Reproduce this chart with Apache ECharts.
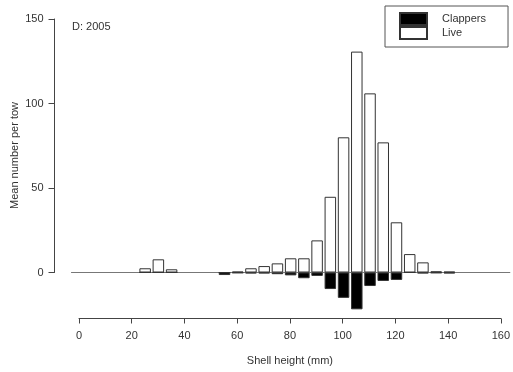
<!DOCTYPE html>
<html>
<head>
<meta charset="utf-8">
<script src="https://cdn.jsdelivr.net/npm/echarts@6/dist/echarts.min.js"></script>
<style>
  html, body { margin: 0; padding: 0; background: #fff; }
  #chart { width: 513px; height: 372px; }
</style>
</head>
<body>
<div id="chart"></div>
<script>
// Shell height bins (mm), bin midpoints
const shellHeights = [25, 30, 35, 55, 60, 65, 70, 75, 80, 85, 90, 95, 100, 105, 110, 115, 120, 125, 130, 135, 140];
// Mean number per tow: live scallops (plotted upward)
const liveValues = [2.5, 7.8, 1.9, 0, 0.5, 2.5, 3.8, 5.4, 8.4, 8.4, 19, 44.8, 80, 130.7, 106, 77, 29.7, 10.9, 6, 0.7, 0.5];
// Mean number per tow: clappers (plotted downward)
const clapperValues = [0, 0, 0, -1.5, -0.3, -0.5, -0.5, -1, -1.7, -3.4, -2, -9.8, -15, -21.8, -8, -5, -4.4, 0, -0.5, -0.3, -0.5];
const xTicks = [0, 20, 40, 60, 80, 100, 120, 140, 160];
const yTicks = [0, 50, 100, 150];
const panelLabel = 'D: 2005';
// horizontal baseline runs a little past both ends of the shell-height axis
const baselineExtent = [-3, 163];

const font = 'Liberation Sans, Arial, sans-serif';
const textColor = '#333';

// pixel layout of the axis frame
const plotLeft = 79, plotRight = 513 - 502.3, plotTop = 19, plotBottom = 99.5;
const pxPerMm = (513 - plotLeft - plotRight) / (xTicks[xTicks.length - 1] - xTicks[0]);

const chart = echarts.init(document.getElementById('chart'), null, { renderer: 'canvas' });

chart.setOption({
  animation: false,
  backgroundColor: '#fff',
  textStyle: { fontFamily: font },
  title: {
    text: panelLabel,
    left: 72,
    top: 21,
    padding: 0,
    textStyle: { fontFamily: font, fontSize: 11, fontWeight: 'normal', color: textColor }
  },
  legend: {
    orient: 'vertical',
    left: 385,
    top: 6,
    padding: [6, 22, 7, 14],
    itemWidth: 27,
    itemHeight: 12,
    itemGap: 0,
    borderColor: '#555',
    borderWidth: 1,
    data: [
      { name: 'Clappers', icon: 'rect' },
      { name: 'Live', icon: 'rect' }
    ],
    textStyle: { fontFamily: font, fontSize: 11, color: textColor, padding: [0, 0, 0, 10] }
  },
  grid: [
    // data area, widened so the baseline can extend beyond 0 and 160 mm
    {
      left: plotLeft + baselineExtent[0] * pxPerMm,
      right: plotRight - (baselineExtent[1] - xTicks[xTicks.length - 1]) * pxPerMm,
      top: plotTop,
      bottom: plotBottom
    },
    // axis frame
    { left: plotLeft, right: plotRight, top: plotTop, bottom: plotBottom }
  ],
  xAxis: [
    {
      gridIndex: 0,
      type: 'value',
      min: baselineExtent[0],
      max: baselineExtent[1],
      show: false
    },
    {
      gridIndex: 1,
      type: 'value',
      min: xTicks[0],
      max: xTicks[xTicks.length - 1],
      interval: 20,
      position: 'bottom',
      offset: 46,
      name: 'Shell height (mm)',
      nameLocation: 'middle',
      nameGap: 37,
      nameTextStyle: { fontFamily: font, fontSize: 11, color: textColor },
      axisLine: { show: true, onZero: false, lineStyle: { color: '#444', width: 1 } },
      axisTick: { show: true, inside: false, length: 5, lineStyle: { color: '#444' } },
      axisLabel: { fontFamily: font, fontSize: 11, color: textColor, margin: 12 },
      splitLine: { show: false }
    }
  ],
  yAxis: [
    {
      gridIndex: 0,
      type: 'value',
      min: yTicks[0],
      max: yTicks[yTicks.length - 1],
      show: false
    },
    {
      gridIndex: 1,
      type: 'value',
      min: yTicks[0],
      max: yTicks[yTicks.length - 1],
      interval: 50,
      position: 'left',
      offset: 24.5,
      axisLine: { show: true, onZero: false, lineStyle: { color: '#444', width: 1 } },
      axisTick: { show: true, inside: false, length: 6, lineStyle: { color: '#444' } },
      axisLabel: { fontFamily: font, fontSize: 11, color: textColor, margin: 11 },
      splitLine: { show: false }
    }
  ],
  graphic: [{
    type: 'text',
    left: 9,
    top: 102,
    rotation: Math.PI / 2,
    style: {
      text: 'Mean number per tow',
      font: '11px ' + font,
      fill: textColor
    }
  }],
  series: [
    {
      name: 'Baseline',
      type: 'line',
      xAxisIndex: 0,
      yAxisIndex: 0,
      data: [[baselineExtent[0], 0], [baselineExtent[1], 0]],
      symbol: 'none',
      silent: true,
      lineStyle: { color: '#777', width: 1 },
      z: 1
    },
    {
      name: 'Clappers',
      type: 'bar',
      xAxisIndex: 0,
      yAxisIndex: 0,
      data: shellHeights.map((h, i) => [h, clapperValues[i]]),
      barWidth: 11.5,
      barGap: '-100%',
      clip: false,
      itemStyle: { color: '#000', borderColor: '#333', borderWidth: 1 },
      z: 3
    },
    {
      name: 'Live',
      type: 'bar',
      xAxisIndex: 0,
      yAxisIndex: 0,
      data: shellHeights.map((h, i) => [h, liveValues[i]]),
      barWidth: 11.5,
      barGap: '-100%',
      clip: false,
      itemStyle: { color: '#fff', borderColor: '#333', borderWidth: 1 },
      z: 2
    }
  ]
});
</script>
</body>
</html>
